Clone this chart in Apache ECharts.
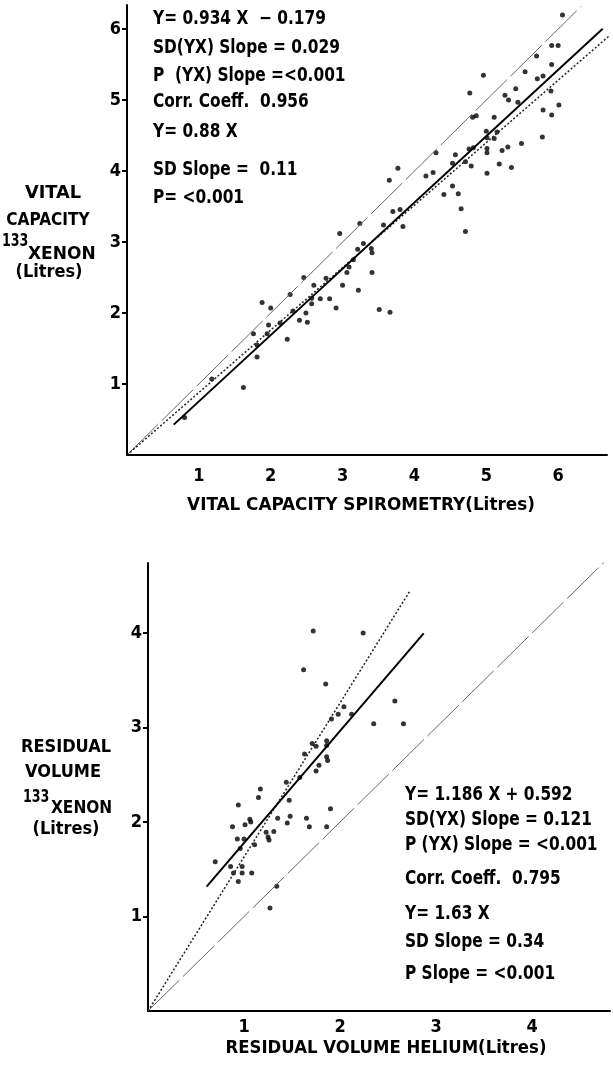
<!DOCTYPE html>
<html lang="en">
<head>
<meta charset="UTF-8" />
<title>Xenon vs spirometry / helium</title>
<script src="https://cdn.jsdelivr.net/npm/echarts@6.0.0/dist/echarts.min.js"></script>
<style>
    body {
        margin: 0;
        padding: 0;
        background: #fff;
    }
    #chart {
        width: 613px;
        height: 1067px;
    }
</style>
</head>
<body>
<div id="chart"></div>
<script>
    // top panel: vital capacity, spirometry (x) vs 133-xenon (y), litres
    let vcSpiro = [0.80, 1.18, 1.62, 1.81, 1.81, 1.76, 1.88, 2.00, 1.97, 1.95, 2.13, 2.23, 2.27, 2.31, 2.40, 2.46,
        2.49, 2.51, 2.57, 2.60, 2.57, 2.69, 2.77, 2.82, 2.91, 2.96, 3.00, 3.06, 3.09, 3.15, 3.22, 3.24,
        3.21, 3.29, 3.40, 3.41, 3.41, 3.51, 3.66, 3.57, 3.70, 3.80, 3.84, 3.65, 3.77, 4.16, 4.26, 4.30,
        4.41, 4.53, 4.61, 4.65, 4.71, 4.53, 4.57, 4.71, 4.79, 4.76, 4.82, 4.77, 4.81, 4.86, 4.96, 5.01,
        5.00, 5.01, 5.01, 5.01, 5.11, 5.11, 5.15, 5.18, 5.22, 5.30, 5.35, 5.49, 5.26, 5.31, 5.41, 5.44,
        5.54, 5.70, 5.71, 5.79, 5.78, 5.79, 5.91, 5.90, 5.91, 5.91, 6.00, 6.01, 6.06];
    let vcXenon = [0.53, 1.07, 0.95, 1.38, 1.55, 1.71, 2.15, 2.07, 1.83, 1.71, 1.86, 1.63, 2.26, 2.03, 1.90, 2.50,
        2.00, 1.87, 2.13, 2.39, 2.21, 2.20, 2.49, 2.20, 2.07, 3.12, 2.39, 2.57, 2.65, 2.75, 2.32, 3.26,
        2.90, 2.98, 2.91, 2.85, 2.57, 2.05, 2.01, 3.24, 3.43, 3.46, 3.22, 3.87, 4.04, 3.93, 3.98, 4.26,
        3.67, 3.79, 3.68, 3.47, 3.15, 4.11, 4.23, 4.13, 4.07, 4.31, 4.33, 5.10, 4.76, 4.78, 5.35, 3.97,
        4.56, 4.47, 4.32, 4.26, 4.76, 4.46, 4.55, 4.10, 4.29, 4.34, 4.05, 4.39, 5.07, 5.00, 5.16, 4.97,
        5.40, 5.62, 5.30, 5.34, 4.48, 4.86, 4.79, 5.13, 5.50, 5.77, 5.77, 4.93, 6.20];

    // bottom panel: residual volume, helium (x) vs 133-xenon (y), litres
    let rvHelium = [1.72, 2.24, 1.62, 1.85, 2.57, 2.35, 2.66, 2.04, 1.98, 2.12, 1.91, 1.71, 1.75, 1.86, 1.86, 1.63,
        1.86, 1.87, 1.78, 1.75, 1.58, 1.44, 1.17, 1.15, 1.47, 0.94, 1.90, 1.06, 1.07, 1.01, 0.88, 1.35,
        1.48, 1.45, 1.65, 1.68, 1.86, 0.93, 1.00, 1.31, 1.23, 1.25, 1.26, 1.11, 0.96, 0.70, 0.86, 0.98,
        0.89, 0.98, 1.08, 0.94, 1.34, 1.27];
    let rvXenon = [4.02, 4.00, 3.61, 3.46, 3.28, 3.04, 3.04, 3.22, 3.14, 3.14, 3.09, 2.83, 2.80, 2.86, 2.81, 2.72,
        2.69, 2.65, 2.60, 2.54, 2.47, 2.42, 2.35, 2.26, 2.23, 2.18, 2.14, 2.03, 2.00, 1.97, 1.95, 2.04,
        2.06, 1.99, 2.04, 1.95, 1.95, 1.82, 1.82, 1.90, 1.89, 1.84, 1.81, 1.76, 1.72, 1.58, 1.53, 1.53,
        1.46, 1.46, 1.46, 1.37, 1.32, 1.09];

    // fitted lines: [slope, intercept, xFrom, xTo]
    let vcFit = [0.934, -0.179, 0.65, 6.62];
    let vcOrigin = [0.88, 0, 0, 6.72];
    let vcIdentity = [1, 0, 0, 6.32];
    let rvFit = [1.186, 0.592, 0.61, 2.87];
    let rvOrigin = [1.63, 0, 0, 2.73];
    let rvIdentity = [1, 0, 0, 4.76];

    let vcTicks = [1, 2, 3, 4, 5, 6];
    let rvTicks = [1, 2, 3, 4];

    let vcStats = ['Y= 0.934 X  \u2212 0.179', 'SD(YX) Slope = 0.029', 'P  (YX) Slope =<0.001',
        'Corr. Coeff.  0.956', 'Y= 0.88 X', 'SD Slope =  0.11', 'P= <0.001'];
    let rvStats = ['Y= 1.186 X + 0.592', 'SD(YX) Slope = 0.121', 'P (YX) Slope = <0.001',
        'Corr. Coeff.  0.795', 'Y= 1.63 X', 'SD Slope = 0.34', 'P Slope = <0.001'];

    let vcTitleX = 'VITAL CAPACITY SPIROMETRY(Litres)';
    let rvTitleX = 'RESIDUAL VOLUME HELIUM(Litres)';
    let vcTitleY = ['VITAL', 'CAPACITY', '(Litres)'];
    let rvTitleY = ['RESIDUAL', 'VOLUME', '(Litres)'];

    const FONT = '"DejaVu Sans Condensed", "Liberation Sans Narrow", "DejaVu Sans", sans-serif';

    function zip(xs, ys) {
        return xs.map((x, i) => [x, ys[i]]);
    }

    function lineData(l) {
        return [[l[2], l[0] * l[2] + l[1]], [l[3], l[0] * l[3] + l[1]]];
    }

    function xAxisOf(idx, max, ticks, margin) {
        return {
            gridIndex: idx,
            type: 'value',
            min: 0,
            max: max,
            splitLine: { show: false },
            axisLine: { onZero: false, lineStyle: { color: '#000', width: 2 } },
            axisTick: { show: false },
            axisLabel: {
                customValues: ticks,
                margin: margin,
                color: '#000',
                fontSize: 18,
                fontWeight: 'bold',
                fontFamily: FONT
            }
        };
    }

    function yAxisOf(idx, max, ticks) {
        return {
            gridIndex: idx,
            type: 'value',
            min: 0,
            max: max,
            splitLine: { show: false },
            axisLine: { onZero: false, lineStyle: { color: '#000', width: 2 } },
            axisTick: { customValues: ticks, length: 5, lineStyle: { color: '#000', width: 2 } },
            axisLabel: {
                customValues: ticks,
                margin: 6,
                color: '#000',
                fontSize: 18,
                fontWeight: 'bold',
                fontFamily: FONT
            }
        };
    }

    function lineSeries(idx, l, style) {
        return {
            type: 'line',
            xAxisIndex: idx,
            yAxisIndex: idx,
            data: lineData(l),
            symbol: 'none',
            silent: true,
            lineStyle: style
        };
    }

    function txt(text, x, y, size, align, sx) {
        return {
            type: 'text',
            x: x,
            y: y,
            scaleX: sx || 1,
            style: {
                text: text,
                fill: '#000',
                fontSize: size,
                fontWeight: 'bold',
                fontFamily: FONT,
                align: align || 'left',
                verticalAlign: 'middle'
            }
        };
    }

    let identityStyle = { color: '#666', width: 1, type: [44, 5] };
    let fitStyle = { color: '#000', width: 2 };
    let originStyle = { color: '#222', width: 1.5, type: [2, 2] };

    let graphic = [];
    vcStats.forEach((s, i) => graphic.push(txt(s, 153, [19, 48, 76, 102, 132, 170, 198][i], 19, 'left', 0.9)));
    rvStats.forEach((s, i) => graphic.push(txt(s, 405, [795, 820, 845, 879, 914, 942, 974][i], 19, 'left', 0.9)));
    graphic.push(txt(vcTitleX, 361, 505, 18, 'center', 1.04));
    graphic.push(txt(rvTitleX, 386, 1048, 18, 'center', 1.02));
    graphic.push(txt(vcTitleY[0], 53, 193, 18, 'center', 1.1));
    graphic.push(txt(vcTitleY[1], 48, 220, 18, 'center', 0.95));
    graphic.push(txt('133', 2, 241, 18, 'left', 0.78));
    graphic.push(txt('XENON', 28, 254, 18, 'left', 1.05));
    graphic.push(txt(vcTitleY[2], 49, 272, 18, 'center'));
    graphic.push(txt(rvTitleY[0], 66, 747, 18, 'center', 1.0));
    graphic.push(txt(rvTitleY[1], 63, 772, 18, 'center', 1.0));
    graphic.push(txt('133', 23, 797, 18, 'left', 0.78));
    graphic.push(txt('XENON', 51, 808, 18, 'left', 0.95));
    graphic.push(txt(rvTitleY[2], 66, 829, 18, 'center'));

    let chartDom = document.getElementById('chart');
    let myChart = echarts.init(chartDom);

    let option = {
        animation: false,
        backgroundColor: '#fff',
        grid: [
            { left: 127, top: 5, width: 480, height: 450 },
            { left: 148, top: 563, width: 462, height: 448 }
        ],
        xAxis: [xAxisOf(0, 6.68, vcTicks, 12), xAxisOf(1, 4.81, rvTicks, 7)],
        yAxis: [yAxisOf(0, 6.34, vcTicks), yAxisOf(1, 4.74, rvTicks)],
        graphic: graphic,
        series: [
            lineSeries(0, vcIdentity, identityStyle),
            lineSeries(0, vcOrigin, originStyle),
            lineSeries(0, vcFit, fitStyle),
            {
                type: 'scatter',
                xAxisIndex: 0,
                yAxisIndex: 0,
                data: zip(vcSpiro, vcXenon),
                symbolSize: 5,
                itemStyle: { color: '#000' }
            },
            lineSeries(1, rvIdentity, identityStyle),
            lineSeries(1, rvOrigin, originStyle),
            lineSeries(1, rvFit, fitStyle),
            {
                type: 'scatter',
                xAxisIndex: 1,
                yAxisIndex: 1,
                data: zip(rvHelium, rvXenon),
                symbolSize: 5,
                itemStyle: { color: '#000' }
            }
        ]
    };
    myChart.setOption(option);
</script>
</body>
</html>
